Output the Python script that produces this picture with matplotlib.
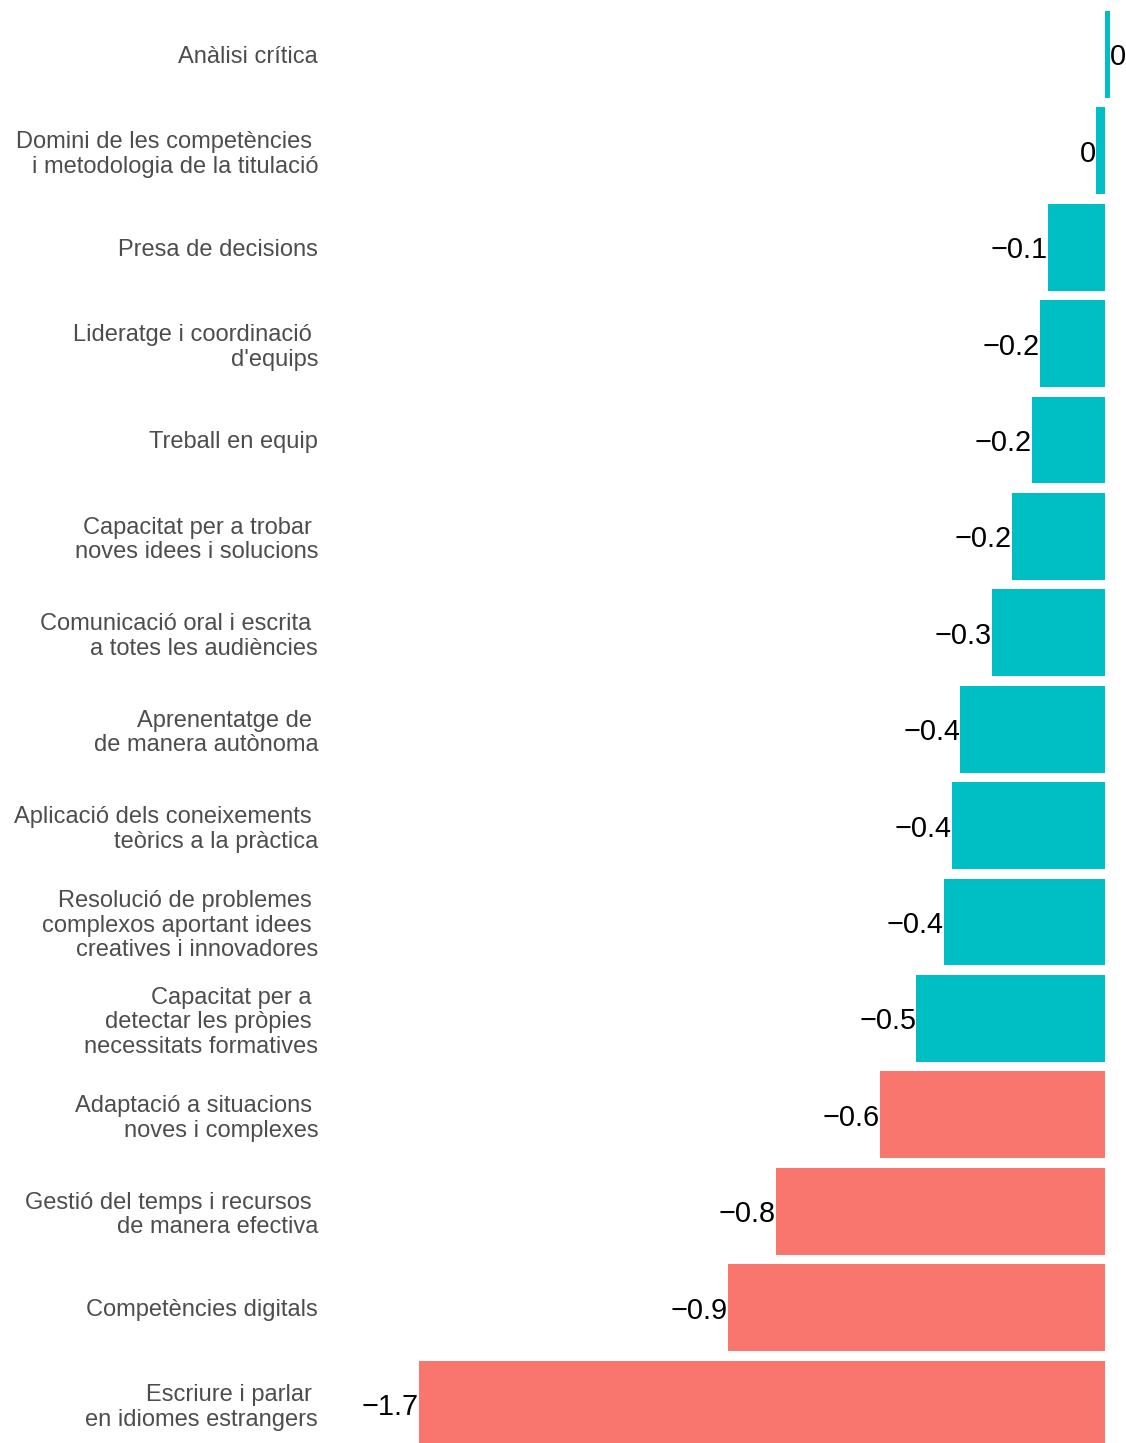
import numpy as np
import matplotlib
matplotlib.use('Agg')
import matplotlib.pyplot as plt

plt.rcParams['font.family'] = ['Liberation Sans', 'DejaVu Sans']

# data, top to bottom
labels = [
    'Anàlisi crítica',
    'Domini de les competències \ni metodologia de la titulació',
    'Presa de decisions',
    'Lideratge i coordinació \nd\'equips',
    'Treball en equip',
    'Capacitat per a trobar \nnoves idees i solucions',
    'Comunicació oral i escrita \na totes les audiències',
    'Aprenentatge de \nde manera autònoma',
    'Aplicació dels coneixements \nteòrics a la pràctica',
    'Resolució de problemes \ncomplexos aportant idees \ncreatives i innovadores',
    'Capacitat per a \ndetectar les pròpies \nnecessitats formatives',
    'Adaptació a situacions \nnoves i complexes',
    'Gestió del temps i recursos \nde manera efectiva',
    'Competències digitals',
    'Escriure i parlar \nen idiomes estrangers',
]
values = [0.012, -0.022, -0.141, -0.161, -0.181, -0.230, -0.280, -0.359,
          -0.379, -0.399, -0.468, -0.557, -0.815, -0.934, -1.70]
groups = ['ok'] * 11 + ['low'] * 4
palette = {'ok': '#00BFC4', 'low': '#F8766D'}

W, H = 1126, 1443
fig = plt.figure(figsize=(W / 100, H / 100), dpi=100)
ax = fig.add_axes([330 / W, 0, 1 - 330 / W, 1])

y = np.arange(len(values))
ax.barh(y, values, height=0.9, color=[palette[g] for g in groups])

ax.set_xlim(-775 / 403.7, 21 / 403.7)
ax.set_ylim(14.405, -0.564)

for yi, v in zip(y, values):
    txt = f'{round(v, 1):.1f}'.replace('-', '\u2212')
    if round(v, 1) == 0:
        txt = '0'
    ha = 'left' if v >= 0 else 'right'
    ax.text(v, yi, txt, ha=ha, va='center_baseline', fontsize=20.8, color='black')

ax.set_yticks(y)
ax.set_yticklabels(labels, fontsize=17, color='#4D4D4D', linespacing=1.15)
ax.tick_params(axis='y', length=0, pad=8.5)
ax.set_xticks([])
for s in ax.spines.values():
    s.set_visible(False)

fig.savefig('out.png', dpi=100)
